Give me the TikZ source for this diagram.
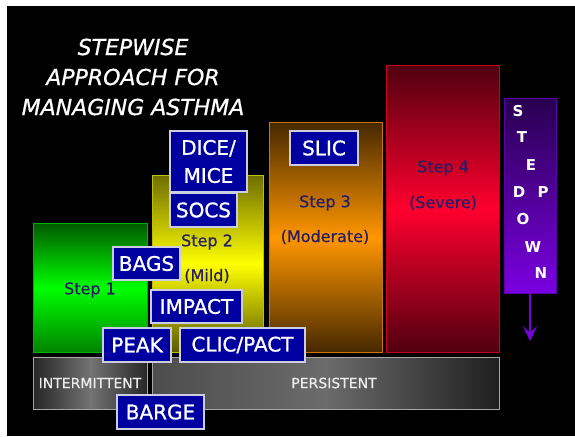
\documentclass[tikz,border=0pt]{standalone}
\usepackage{fontspec}
\setmainfont{DejaVu Sans}
\newfontfamily\tagfont[FakeBold=1.1]{DejaVu Sans}
\newfontfamily\inkfont[FakeBold=0.6]{DejaVu Sans}
\newfontfamily\headfont[FakeBold=0.8]{DejaVu Sans}
\usetikzlibrary{arrows.meta}

\definecolor{labelfill}{RGB}{0,0,160}
\definecolor{labeledge}{RGB}{205,205,225}
\definecolor{stepink}{RGB}{40,30,100}
\definecolor{downpurple}{RGB}{122,0,225}

\tikzset{
  stepbar/.style={draw, line width=1pt, inner sep=0pt, anchor=north west},
  grayband/.style={draw=gray!70, line width=1pt, inner sep=0pt, anchor=north west,
    left color=black!85, right color=black!85, middle color=black!55},
  tag/.style={draw=labeledge, line width=1.4pt, fill=labelfill, text=white,
    inner sep=0pt, align=center, font=\tagfont\fontsize{20}{28}\selectfont},
  steptext/.style={text=stepink, font=\inkfont\fontsize{16}{20}\selectfont},
  bandtext/.style={text=black!8, font=\inkfont\fontsize{14}{16}\selectfont},
  downletter/.style={text=white, font=\fontsize{15}{16}\selectfont\bfseries},
}

\begin{document}
\begin{tikzpicture}[x=1pt, y=-1pt]
  % page and black slide area
  \fill[white] (0,0) rectangle (575,436);
  \useasboundingbox (0,0) rectangle (575,436);
  \fill[black] (7,6) rectangle (575,436);

  % title
  \node[text=white, align=center, font=\headfont\fontsize{22}{30}\selectfont\itshape]
    (title) at (133,77) {STEPWISE\\APPROACH FOR\\MANAGING ASTHMA};

  % the four steps
  \node[stepbar, draw=green!70!black, minimum width=114pt, minimum height=129pt,
    top color={rgb,255:red,0;green,90;blue,0}, bottom color={rgb,255:red,0;green,130;blue,0},
    middle color={rgb,255:red,0;green,255;blue,0}] (step1) at (33,223) {};
  \node[stepbar, draw={rgb,255:red,190;green,190;blue,0}, minimum width=111pt, minimum height=177pt,
    top color={rgb,255:red,110;green,110;blue,0}, bottom color={rgb,255:red,90;green,90;blue,0},
    middle color={rgb,255:red,255;green,255;blue,0}] (step2) at (152,175) {};
  \node[stepbar, draw={rgb,255:red,200;green,120;blue,0}, minimum width=113pt, minimum height=230pt,
    top color={rgb,255:red,70;green,40;blue,0}, bottom color={rgb,255:red,70;green,40;blue,0},
    middle color={rgb,255:red,255;green,150;blue,0}] (step3) at (269,122) {};
  \node[stepbar, draw={rgb,255:red,200;green,0;blue,30}, minimum width=113pt, minimum height=287pt,
    top color={rgb,255:red,80;green,0;blue,15}, bottom color={rgb,255:red,80;green,0;blue,15},
    middle color={rgb,255:red,255;green,0;blue,45}] (step4) at (386,65) {};

  \node[steptext] (s1) at (90,290) {Step 1};
  \node[steptext] (s2a) at (207,242) {Step 2};
  \node[steptext] (s2b) at (207,276) {(Mild)};
  \node[steptext] (s3a) at (325,203) {Step 3};
  \node[steptext] (s3b) at (325,237) {(Moderate)};
  \node[steptext] (s4a) at (443,168) {Step 4};
  \node[steptext] (s4b) at (443,203) {(Severe)};

  % step down bar and arrow
  \node[stepbar, draw={rgb,255:red,90;green,0;blue,170}, minimum width=52pt, minimum height=195pt,
    top color={rgb,255:red,40;green,0;blue,80}, bottom color=downpurple] (down) at (504,98) {};
  \coordinate (downend) at (530,341);
  \draw[downpurple, line width=2.2pt, -{Stealth[length=15pt, width=14pt, inset=7pt]}]
    (down.south -| downend) -- (downend);
  \node[downletter] (dS) at (518,111) {S};
  \node[downletter] (dT) at (522,137) {T};
  \node[downletter] (dE) at (531,165) {E};
  \node[downletter] (dD) at (519,192) {D};
  \node[downletter] (dP) at (543,192) {P};
  \node[downletter] (dO) at (523,219) {O};
  \node[downletter] (dW) at (533,247) {W};
  \node[downletter] (dN) at (541,273) {N};

  % intermittent / persistent bands
  \node[grayband, minimum width=114pt, minimum height=52pt] (inter) at (33,357) {};
  \node[grayband, minimum width=347pt, minimum height=52pt,
    left color=black!70, right color=black!88, middle color=black!58] (pers) at (152,357) {};
  \node[bandtext] (intertext) at (90,383) {INTERMITTENT};
  \node[bandtext] (perstext) at (334,383) {PERSISTENT};

  % mnemonic tags
  \node[tag, minimum width=77pt, minimum height=61pt] (dice) at (208.5,161.5) {DICE/\\MICE};
  \node[tag, minimum width=67pt, minimum height=34pt] (socs) at (203.5,210) {SOCS};
  \node[tag, minimum width=68pt, minimum height=34pt] (slic) at (324,148) {SLIC};
  \node[tag, minimum width=67pt, minimum height=33pt] (bags) at (146.5,263.5) {BAGS};
  \node[tag, minimum width=91pt, minimum height=33pt] (impact) at (196.5,306.5) {IMPACT};
  \node[tag, minimum width=68pt, minimum height=34pt] (peak) at (137,345) {PEAK};
  \node[tag, minimum width=125pt, minimum height=34pt] (clic) at (242.5,345) {CLIC/PACT};
  \node[tag, minimum width=87pt, minimum height=34pt] (barge) at (160.5,412) {BARGE};
\end{tikzpicture}
\end{document}
